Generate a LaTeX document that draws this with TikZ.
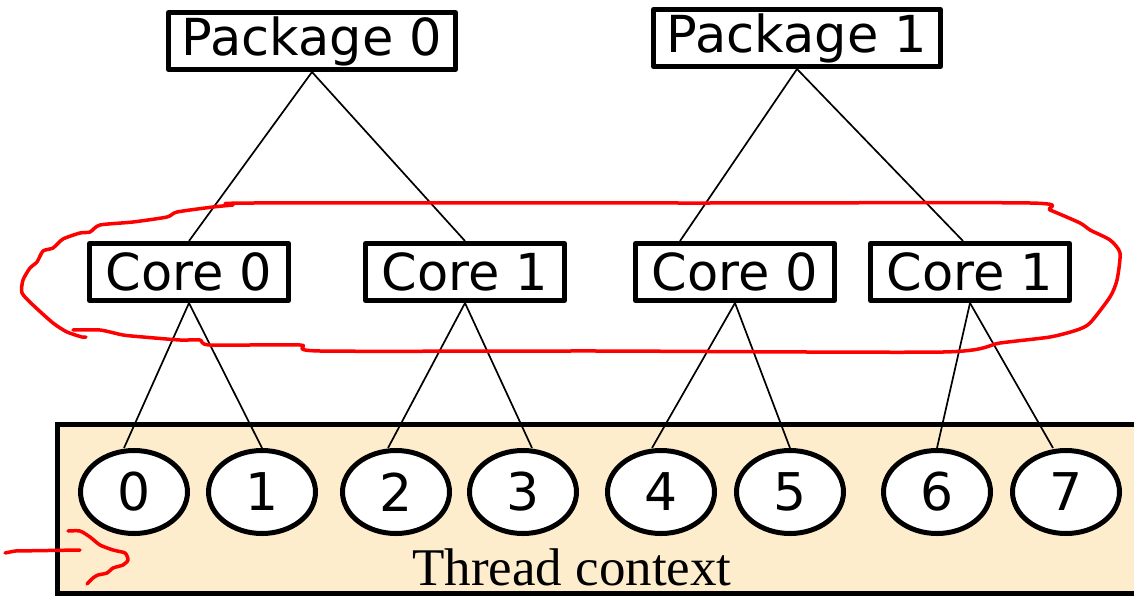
\documentclass[tikz,border=0pt]{standalone}
\usepackage{fontspec}
\setmainfont{DejaVu Sans}
\newfontfamily\ctxfont{Liberation Serif}
\usetikzlibrary{shapes.geometric}
\definecolor{Cctx}{RGB}{253,237,204}
\colorlet{Bln}{black}
\definecolor{Bred}{RGB}{255,0,0}
\tikzset{
  pkgbox/.style  = {draw=Bln, fill=white, line width=5pt, line join=round,
                    minimum width=287, minimum height=57, inner sep=0pt,
                    font=\fontsize{51}{60}\selectfont},
  corebox/.style = {draw=Bln, fill=white, line width=5pt, line join=round,
                    minimum width=199, minimum height=57, inner sep=0pt,
                    font=\fontsize{51}{60}\selectfont},
  thr/.style     = {ellipse, draw=Bln, fill=white, line width=5pt,
                    minimum width=107, minimum height=83, inner sep=0pt,
                    font=\fontsize{52}{60}\selectfont},
  ctx/.style     = {draw=Bln, fill=Cctx, line width=5pt},
  lnk/.style     = {Bln, line width=1.7pt},
  scrib/.style   = {Bred, line width=3.5pt, line cap=round, line join=round},
}

\begin{document}
\begin{tikzpicture}[x=1pt, y=-1pt]
\useasboundingbox (0,0) rectangle (1134,597);

%%──────────────────────────────────────────────────
%% Thread context strip
%%──────────────────────────────────────────────────
\draw[ctx] (57,424) rectangle (1142,593);
\node[font=\ctxfont\fontsize{53}{60}\selectfont, anchor=base] (ctxlbl) at (572,585)
  {Thread context};

%%──────────────────────────────────────────────────
%% Packages and cores
%%──────────────────────────────────────────────────
\node[pkgbox] (pkg0) at (312,41) {Package 0};
\node[pkgbox] (pkg1) at (797,38) {Package 1};

\node[corebox] (core00) at (189,272) {Core 0};
\node[corebox] (core01) at (465,272) {Core 1};
\node[corebox] (core10) at (735,272) {Core 0};
\node[corebox] (core11) at (970,272) {Core 1};

%%──────────────────────────────────────────────────
%% Hardware threads
%%──────────────────────────────────────────────────
\node[thr] (thr0) at (134,492)  {0};
\node[thr] (thr1) at (262,492)  {1};
\node[thr] (thr2) at (396,492)  {2};
\node[thr] (thr3) at (523,492)  {3};
\node[thr] (thr4) at (661,492)  {4};
\node[thr] (thr5) at (790,492)  {5};
\node[thr] (thr6) at (937,492)  {6};
\node[thr] (thr7) at (1066,492) {7};

%% Package -> core
\draw[lnk] (pkg0.south) -- (core00.north);
\draw[lnk] (pkg0.south) -- (core01.north);
\draw[lnk] (pkg1.south) -- ([xshift=-55pt]core10.north);
\draw[lnk] (pkg1.south) -- ([xshift=-7pt]core11.north);

%% Core -> thread
\draw[lnk] (core00.south) -- ([xshift=-10pt]thr0.north);
\draw[lnk] (core00.south) -- (thr1.north);
\draw[lnk] (core01.south) -- ([xshift=-8pt]thr2.north);
\draw[lnk] (core01.south) -- ([xshift=9pt]thr3.north);
\draw[lnk] (core10.south) -- ([xshift=-9pt]thr4.north);
\draw[lnk] (core10.south) -- (thr5.north);
\draw[lnk] (core11.south) -- (thr6.north);
\draw[lnk] (core11.south) -- ([xshift=-13pt]thr7.north);

%%──────────────────────────────────────────────────
%% Red freehand marks
%%──────────────────────────────────────────────────
\draw[scrib] plot[smooth, tension=0.4] coordinates {
  (73,330) (100,330) (123,335) (143,337) (180,340) (200,340) (210,345)
  (300,345) (320,351) (600,351) (943,352) (1000,343) (1050,337)
  (1077,330) (1090,323) (1110,297) (1117,280) (1120,253) (1110,240)
  (1090,230) (1080,223) (1050,210) (1030,203) (700,203) (253,203)
  (233,205) (213,207) (177,212) (167,217) (133,222) (100,225) (90,232)
  (80,233) (63,239) (53,248) (43,251) (37,262) (30,268) (23,280)
  (22,293) (33,305) (53,323) (67,332) (82,337) (86,337)};
\draw[scrib] (5,553) -- (15,551) -- (80,550);
\draw[scrib] plot[smooth, tension=0.4] coordinates {
  (68,531) (80,531) (90,537) (100,545) (113,550) (125,553) (128,560)
  (123,565) (113,568) (107,573) (98,575) (93,578) (87,584)};

\end{tikzpicture}
\end{document}
